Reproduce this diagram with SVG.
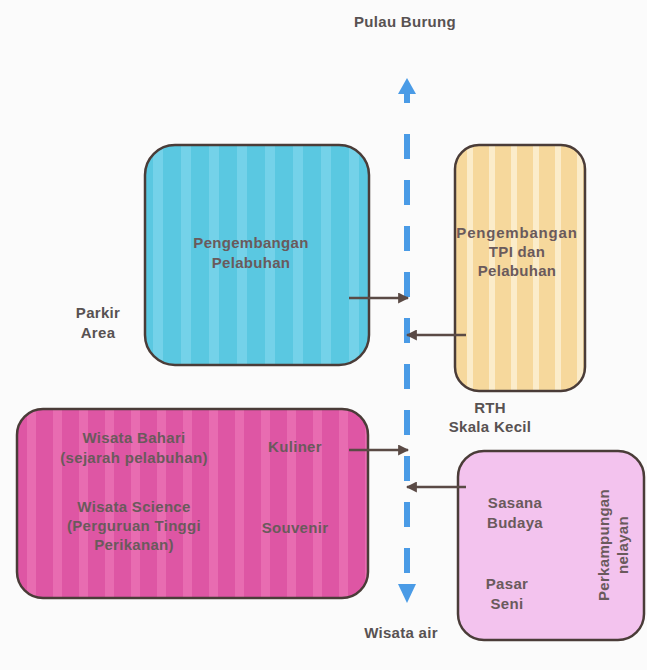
<svg xmlns="http://www.w3.org/2000/svg" width="647" height="670" viewBox="0 0 647 670">
  <defs>
    <style>
      .lbl { font-family: "Liberation Sans", Arial, sans-serif; font-weight: bold; font-size: 15px; letter-spacing: 0.3px; fill: #585252; text-anchor: middle; }
      .in { fill: #6a5a5c; }
      .box { stroke: #4a3c38; stroke-width: 2.5; }
      .conn { stroke: #5a4a45; stroke-width: 2.5; fill: none; }
    </style>
    <pattern id="pBlue" patternUnits="userSpaceOnUse" x="145" y="0" width="28" height="10">
      <rect width="28" height="10" fill="#5ac8e1"/>
      <rect x="8" width="10" height="10" fill="#74d2e9"/>
    </pattern>
    <pattern id="pOrange" patternUnits="userSpaceOnUse" x="455" y="0" width="22" height="10">
      <rect width="22" height="10" fill="#f6d89c"/>
      <rect x="12" width="6" height="10" fill="#fbecca"/>
    </pattern>
    <pattern id="pPink" patternUnits="userSpaceOnUse" x="17" y="0" width="26" height="10">
      <rect width="26" height="10" fill="#de56a4"/>
      <rect x="10" width="9" height="10" fill="#e86cb1"/>
    </pattern>
    <marker id="ah" viewBox="0 0 10 10" refX="9" refY="5" markerWidth="4.4" markerHeight="4.4" orient="auto" markerUnits="strokeWidth">
      <path d="M0,0 L10,5 L0,10 Z" fill="#5a4a45"/>
    </marker>
  </defs>
  <rect width="647" height="670" fill="#fbfbfb"/>

  <g id="axis">
    <polygon points="407,78 398,94 416,94" fill="#4a9be6"/>
    <rect x="404" y="93" width="6" height="10" fill="#4a9be6"/>
    <line x1="407" y1="134" x2="407" y2="573" stroke="#4a9be6" stroke-width="6" stroke-dasharray="25 21"/>
    <polygon points="398,584 416,584 407,603" fill="#4a9be6"/>
  </g>

  <g id="labels">
    <text class="lbl" x="405" y="27">Pulau Burung</text>
    <text class="lbl" x="98" y="318">Parkir</text>
    <text class="lbl" x="98" y="338">Area</text>
    <text class="lbl" x="490" y="413">RTH</text>
    <text class="lbl" x="490" y="432">Skala Kecil</text>
    <text class="lbl" x="401" y="638">Wisata air</text>
  </g>

  <g id="pengembangan-pelabuhan">
    <rect class="box" x="145" y="145" width="224" height="220" rx="30" fill="url(#pBlue)"/>
    <text class="lbl in" x="251" y="248">Pengembangan</text>
    <text class="lbl in" x="251" y="268">Pelabuhan</text>
  </g>

  <g id="pengembangan-tpi">
    <rect class="box" x="455" y="145" width="130" height="246" rx="24" fill="url(#pOrange)"/>
    <text class="lbl in" x="517" y="238" style="letter-spacing:0.8px">Pengembangan</text>
    <text class="lbl in" x="517" y="257">TPI dan</text>
    <text class="lbl in" x="517" y="276">Pelabuhan</text>
  </g>

  <g id="wisata">
    <rect class="box" x="17" y="409" width="351" height="189" rx="26" fill="url(#pPink)"/>
    <text class="lbl in" x="134" y="443">Wisata Bahari</text>
    <text class="lbl in" x="134" y="463">(sejarah pelabuhan)</text>
    <text class="lbl in" x="134" y="512">Wisata Science</text>
    <text class="lbl in" x="134" y="531">(Perguruan Tinggi</text>
    <text class="lbl in" x="134" y="550">Perikanan)</text>
    <text class="lbl in" x="295" y="452">Kuliner</text>
    <text class="lbl in" x="295" y="533">Souvenir</text>
  </g>

  <g id="perkampungan">
    <rect class="box" x="458" y="451" width="186" height="189" rx="26" fill="#f3c3ee"/>
    <text class="lbl in" x="515" y="508">Sasana</text>
    <text class="lbl in" x="515" y="528">Budaya</text>
    <text class="lbl in" x="507" y="589">Pasar</text>
    <text class="lbl in" x="507" y="609">Seni</text>
    <text class="lbl in" transform="translate(609,545) rotate(-90)">Perkampungan</text>
    <text class="lbl in" transform="translate(628,545) rotate(-90)">nelayan</text>
  </g>

  <g id="connectors">
    <line class="conn" x1="349" y1="298" x2="408" y2="298" marker-end="url(#ah)"/>
    <line class="conn" x1="466" y1="335" x2="407" y2="335" marker-end="url(#ah)"/>
    <line class="conn" x1="349" y1="450" x2="408" y2="450" marker-end="url(#ah)"/>
    <line class="conn" x1="466" y1="487" x2="407" y2="487" marker-end="url(#ah)"/>
  </g>
</svg>
